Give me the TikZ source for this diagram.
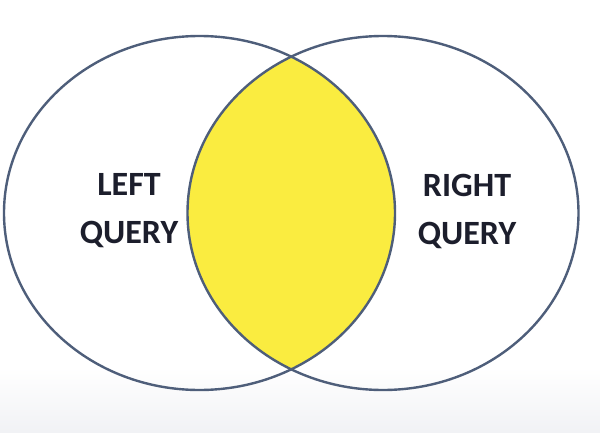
\documentclass[tikz,border=0pt]{standalone}
\usepackage{fontspec}
\setmainfont{Carlito}
\usepackage{tikz}
\usetikzlibrary{positioning}
\usepackage{xcolor}
\definecolor{ringcol}{RGB}{78,94,122}
\definecolor{overlapcol}{RGB}{250,236,64}
\definecolor{labelcol}{RGB}{28,30,44}
\definecolor{floorgrey}{RGB}{241,242,245}
\newcommand{\qlabelfont}{\fontsize{34}{48}\selectfont\bfseries}
\tikzset{
  setring/.style={draw=ringcol,line width=2.4pt},
  overlap/.style={fill=overlapcol},
  setlabel/.style={font=\qlabelfont,text=labelcol,align=center,inner sep=0pt},
}

\begin{document}
\begin{tikzpicture}[x=1pt,y=1pt]
  \useasboundingbox (0,0) rectangle (600,432);
  \fill[white] (0,0) rectangle (600,432);
  \shade[top color=white,bottom color=floorgrey] (0,0) rectangle (600,65);
  \coordinate (lc) at (199.5,219);
  \coordinate (rc) at (383,219);
  % shared part of the two queries
  \begin{scope}
    \clip (lc) ellipse [x radius=195.5,y radius=177];
    \fill[overlap] (rc) ellipse [x radius=195.5,y radius=177];
  \end{scope}
  \draw[setring] (lc) ellipse [x radius=195.5,y radius=177];
  \draw[setring] (rc) ellipse [x radius=195.5,y radius=177];
  \node[setlabel] (leftq) at (129,221) {LEFT\\QUERY};
  \node[setlabel] (rightq) at (467,221) {RIGHT\\QUERY};
\end{tikzpicture}
\end{document}
